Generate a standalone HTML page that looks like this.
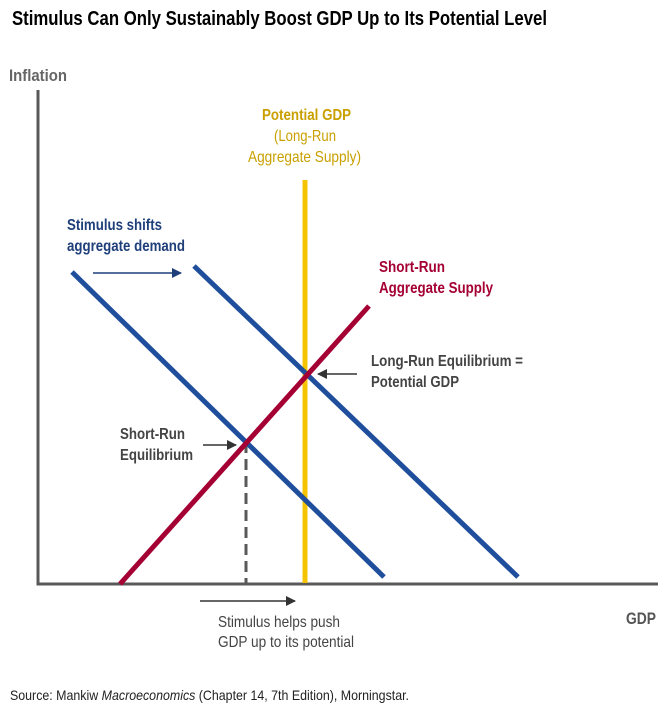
<!DOCTYPE html>
<html><head><meta charset="utf-8"><style>
html,body{margin:0;padding:0;background:#fff;}
svg text{font-family:"Liberation Sans Narrow","Liberation Sans",sans-serif;}
</style></head><body>
<svg width="658" height="708" viewBox="0 0 658 708" xmlns="http://www.w3.org/2000/svg">
<defs>
<marker id="ah" viewBox="0 0 10 10" refX="9" refY="5" markerWidth="10" markerHeight="10" markerUnits="userSpaceOnUse" orient="auto"><path d="M0,0L10,5L0,10z" fill="#333"/></marker>
<marker id="ahb" viewBox="0 0 10 10" refX="9" refY="5" markerWidth="10" markerHeight="10" markerUnits="userSpaceOnUse" orient="auto"><path d="M0,0L10,5L0,10z" fill="#1f3f7a"/></marker>
</defs>
<text x="12" y="25" font-size="20" font-weight="bold" fill="#000" textLength="535" lengthAdjust="spacingAndGlyphs">Stimulus Can Only Sustainably Boost GDP Up to Its Potential Level</text>
<text x="9" y="81" font-size="17" font-weight="bold" fill="#666" textLength="58" lengthAdjust="spacingAndGlyphs">Inflation</text>
<path d="M38,90 V584 H658" fill="none" stroke="#595959" stroke-width="3"/>
<line x1="305" y1="180" x2="305" y2="583" stroke="#f5c400" stroke-width="5"/>
<line x1="246" y1="442" x2="246" y2="583" stroke="#595959" stroke-width="3" stroke-dasharray="11,6"/>
<line x1="72" y1="272" x2="384" y2="577" stroke="#1f4e9c" stroke-width="5"/>
<line x1="194" y1="266" x2="518" y2="577" stroke="#1f4e9c" stroke-width="5"/>
<line x1="120" y1="584" x2="369" y2="306" stroke="#a50034" stroke-width="5"/>
<line x1="93" y1="273" x2="181" y2="273" stroke="#1f3f7a" stroke-width="1.5" marker-end="url(#ahb)"/>
<line x1="357" y1="374" x2="318" y2="374" stroke="#333" stroke-width="1.5" marker-end="url(#ah)"/>
<line x1="203" y1="445" x2="236" y2="445" stroke="#333" stroke-width="1.5" marker-end="url(#ah)"/>
<line x1="200" y1="601" x2="295" y2="601" stroke="#333" stroke-width="1.5" marker-end="url(#ah)"/>
<text x="262" y="120" font-size="16" font-weight="bold" fill="#c9a000" textLength="89" lengthAdjust="spacingAndGlyphs">Potential GDP</text>
<text x="274" y="141" font-size="16" fill="#c9a000" textLength="62" lengthAdjust="spacingAndGlyphs">(Long-Run</text>
<text x="248" y="162" font-size="16" fill="#c9a000" textLength="113" lengthAdjust="spacingAndGlyphs">Aggregate Supply)</text>
<text x="67" y="230" font-size="16" font-weight="bold" fill="#1f3f7a" textLength="95" lengthAdjust="spacingAndGlyphs">Stimulus shifts</text>
<text x="67" y="251" font-size="16" font-weight="bold" fill="#1f3f7a" textLength="118" lengthAdjust="spacingAndGlyphs">aggregate demand</text>
<text x="379" y="272" font-size="16" font-weight="bold" fill="#a50034" textLength="66" lengthAdjust="spacingAndGlyphs">Short-Run</text>
<text x="379" y="293" font-size="16" font-weight="bold" fill="#a50034" textLength="114" lengthAdjust="spacingAndGlyphs">Aggregate Supply</text>
<text x="371" y="366" font-size="16" font-weight="bold" fill="#444" textLength="152" lengthAdjust="spacingAndGlyphs">Long-Run Equilibrium =</text>
<text x="371" y="387" font-size="16" font-weight="bold" fill="#444" textLength="88" lengthAdjust="spacingAndGlyphs">Potential GDP</text>
<text x="120" y="439" font-size="16" font-weight="bold" fill="#444" textLength="65" lengthAdjust="spacingAndGlyphs">Short-Run</text>
<text x="120" y="460" font-size="16" font-weight="bold" fill="#444" textLength="73" lengthAdjust="spacingAndGlyphs">Equilibrium</text>
<text x="218" y="627" font-size="16" fill="#444" textLength="122" lengthAdjust="spacingAndGlyphs">Stimulus helps push</text>
<text x="218" y="647" font-size="16" fill="#444" textLength="136" lengthAdjust="spacingAndGlyphs">GDP up to its potential</text>
<text x="626" y="624" font-size="17" font-weight="bold" fill="#555" textLength="30" lengthAdjust="spacingAndGlyphs">GDP</text>
<text x="10" y="700" font-size="14" fill="#222" textLength="399" lengthAdjust="spacingAndGlyphs">Source: Mankiw <tspan font-style="italic">Macroeconomics</tspan>  (Chapter 14, 7th Edition), Morningstar.</text>
</svg>
</body></html>
